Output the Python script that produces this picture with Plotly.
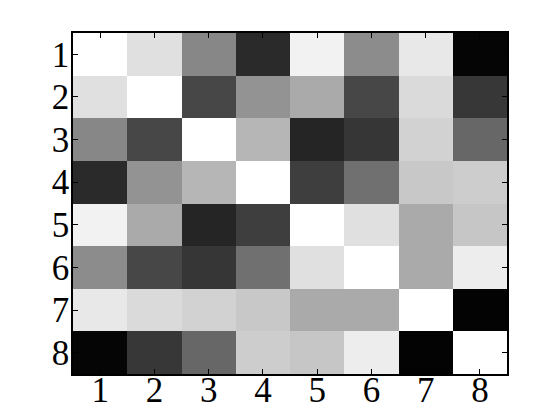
import plotly.graph_objects as go

labels = ["1", "2", "3", "4", "5", "6", "7", "8"]

# correlation-like values, read from the gray levels (white = 1, black = -1)
row1 = [1.00, 0.76, 0.06, -0.67, 0.90, 0.10, 0.82, -0.96]
row2 = [0.76, 1.00, -0.44, 0.15, 0.33, -0.44, 0.71, -0.57]
row3 = [0.06, -0.44, 1.00, 0.43, -0.71, -0.58, 0.65, -0.19]
row4 = [-0.67, 0.15, 0.43, 1.00, -0.51, -0.12, 0.57, 0.61]
row5 = [0.90, 0.33, -0.71, -0.51, 1.00, 0.76, 0.33, 0.55]
row6 = [0.10, -0.44, -0.58, -0.12, 0.76, 1.00, 0.33, 0.86]
row7 = [0.82, 0.71, 0.65, 0.57, 0.33, 0.33, 1.00, -0.98]
row8 = [-0.96, -0.57, -0.19, 0.61, 0.55, 0.86, -0.98, 1.00]

z = [row1, row2, row3, row4, row5, row6, row7, row8]

fig = go.Figure(
    go.Heatmap(
        z=z,
        x=labels,
        y=labels,
        zmin=-1,
        zmax=1,
        colorscale=[[0, "#000000"], [1, "#ffffff"]],
        showscale=False,
    )
)

axis_style = dict(
    showline=True,
    linecolor="black",
    linewidth=1.5,
    mirror="ticks",
    ticks="inside",
    ticklen=5,
    tickwidth=1,
    tickcolor="black",
    showgrid=False,
    zeroline=False,
    automargin=False,
    tickmode="array",
    tickvals=labels,
    ticktext=labels,
    tickfont=dict(family="Liberation Serif, DejaVu Serif, serif", size=35, color="black"),
)

# the page adds an 8px body margin, so the figure is a bit smaller than the window
fig.update_layout(
    width=552,
    height=412,
    paper_bgcolor="white",
    plot_bgcolor="white",
    margin=dict(l=65, r=53, t=25, b=46),
    xaxis=dict(**axis_style, ticklabelstandoff=-16),
    yaxis=dict(**axis_style, autorange="reversed", ticklabelstandoff=-5),
)

fig.write_html("out.html")
